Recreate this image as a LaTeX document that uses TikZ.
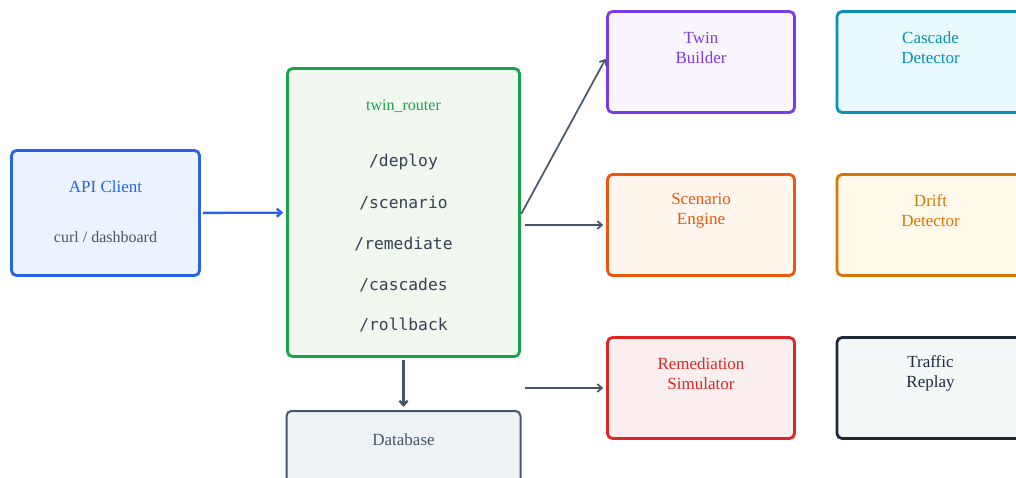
\documentclass[tikz,border=0pt]{standalone}
\usepackage{fontspec}
\setmainfont{Liberation Serif}
\newfontfamily\codefont{DejaVu Sans Mono}
\usetikzlibrary{arrows.meta}
\definecolor{cblue}{HTML}{2563EB}\definecolor{fblue}{HTML}{EBF3FE}
\definecolor{cgreen}{HTML}{16A34A}\definecolor{fgreen}{HTML}{F0F8F0}
\definecolor{cslate}{HTML}{475569}\definecolor{fslate}{HTML}{EEF3F5}
\definecolor{cpurple}{HTML}{7C3AED}\definecolor{fpurple}{HTML}{FAF5FF}
\definecolor{cteal}{HTML}{0891B2}\definecolor{fteal}{HTML}{E9F9FD}
\definecolor{corange}{HTML}{EA580C}\definecolor{forange}{HTML}{FFF7ED}
\definecolor{camber}{HTML}{D97706}\definecolor{famber}{HTML}{FFF9EB}
\definecolor{cred}{HTML}{DC2626}\definecolor{fred}{HTML}{FAEEEE}
\definecolor{cdark}{HTML}{1E293B}\definecolor{fdark}{HTML}{F4F8F9}
\definecolor{ccode}{HTML}{374151}\definecolor{cgray}{HTML}{4B5563}
\tikzset{
  box/.style={draw, rounded corners=5pt, line width=2.8pt, inner sep=0pt},
  svc/.style={box, minimum width=187pt, minimum height=101pt},
  lbl/.style={font=\fontsize{17}{20}\selectfont, align=center, inner sep=0pt},
  code/.style={font=\codefont\fontsize{16.3}{18}\selectfont, text=ccode, inner sep=0pt},
  link/.style={draw=cslate, line width=1.7pt, -{Straight Barb[length=4.5pt,width=8pt]}},
}
\begin{document}
\begin{tikzpicture}[x=1pt,y=-1pt]
\useasboundingbox (0,0) rectangle (1016,478);

% client
\node[box, draw=cblue, fill=fblue, minimum width=188pt, minimum height=125pt] (api) at (105.5,213) {};
\node[lbl, text=cblue] (apit) at (105.5,187) {API Client};
\node[lbl, text=cgray, font=\fontsize{16}{20}\selectfont] (apis) at (105.5,237) {curl / dashboard};

% router
\node[box, draw=cgreen, fill=fgreen, minimum width=232pt, minimum height=288pt] (router) at (403.5,212.5) {};
\node[lbl, text=cgreen, font=\fontsize{16}{18}\selectfont] (routert) at (403.5,106) {twin\_router};
\node[code] (r1) at (403.5,162) {/deploy};
\node[code] (r2) at (403.5,203) {/scenario};
\node[code] (r3) at (403.5,244) {/remediate};
\node[code] (r4) at (403.5,285) {/cascades};
\node[code] (r5) at (403.5,325) {/rollback};

% storage
\node[box, draw=cslate, fill=fslate, line width=2pt, minimum width=234pt, minimum height=100pt] (db) at (403.5,461) {};
\node[lbl, text=cslate] (dbt) at (403.5,440) {Database};

% services
\node[svc, draw=cpurple, fill=fpurple] (tb) at (701,62) {};
\node[lbl, text=cpurple] (tbt) at (701,47.5) {Twin\\Builder};
\node[svc, draw=cteal, fill=fteal] (cd) at (930.5,62) {};
\node[lbl, text=cteal] (cdt) at (930.5,47.5) {Cascade\\Detector};

\node[svc, draw=corange, fill=forange] (se) at (701,225) {};
\node[lbl, text=corange] (set) at (701,210.5) {Scenario\\Engine};
\node[svc, draw=camber, fill=famber] (dd) at (930.5,225) {};
\node[lbl, text=camber] (ddt) at (930.5,210.5) {Drift\\Detector};

\node[svc, draw=cred, fill=fred] (rs) at (701,388) {};
\node[lbl, text=cred] (rst) at (701,373.5) {Remediation\\Simulator};
\node[svc, draw=cdark, fill=fdark] (tr) at (930.5,388) {};
\node[lbl, text=cdark] (trt) at (930.5,373.5) {Traffic\\Replay};

% connectors
\draw[link, draw=cblue, line width=2.4pt, shorten <=2pt, shorten >=3pt] (api) -- (router);
\draw[link, shorten <=1pt, shorten >=1pt] ([yshift=-2pt]router.east) -- ([yshift=4pt]tb.west);
\draw[link, shorten <=4pt, shorten >=3pt] (router.east |- se.west) -- (se.west);
\draw[link, shorten <=4pt, shorten >=3pt] (router.east |- rs.west) -- (rs.west);
\draw[link, line width=2.4pt, shorten <=2pt, shorten >=3pt] (router.south) -- (db.north);
\end{tikzpicture}
\end{document}
